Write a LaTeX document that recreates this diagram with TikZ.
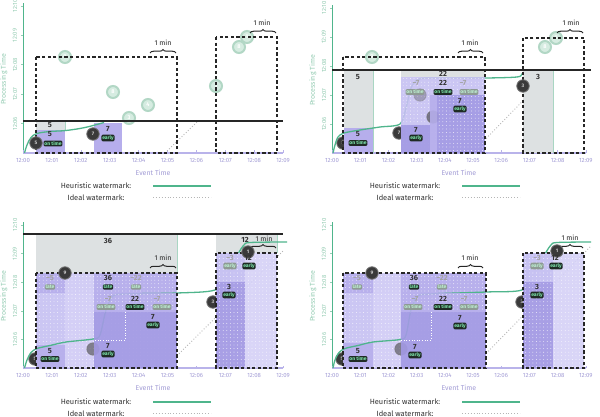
\documentclass[tikz,border=0pt]{standalone}
\usepackage{fontspec}
\setmainfont{Fira Sans}
\usetikzlibrary{decorations.pathreplacing,patterns.meta}
\definecolor{wm}{HTML}{4FB58C}
\definecolor{axg}{HTML}{96CDB4}
\definecolor{axp}{HTML}{B9B3EA}
\definecolor{axpt}{HTML}{A39DD6}
\definecolor{grayr}{HTML}{DDE1E2}
\definecolor{grayb}{HTML}{A9D6C3}
\definecolor{pA}{HTML}{A39AE4}
\definecolor{pB}{HTML}{B6AEEC}
\definecolor{pC}{HTML}{C6C0F2}
\definecolor{pD}{HTML}{D5D1F7}
\definecolor{tagbg}{HTML}{1F2B25}
\definecolor{tagfg}{HTML}{7DE2AA}
\definecolor{ftagbg}{HTML}{8E9A94}
\definecolor{ftagfg}{HTML}{BDEFD2}
\definecolor{gcf}{HTML}{D6ECE1}
\definecolor{gcr}{HTML}{B2D7C5}
\definecolor{dcf}{HTML}{3A3A3A}
\definecolor{txt}{HTML}{333333}
\definecolor{ideal}{HTML}{B5B5B5}
\tikzset{
  xlab/.style={font=\fontsize{6}{6}\selectfont, text=axpt, inner sep=0pt},
  ylab/.style={font=\fontsize{6}{6}\selectfont, text=axg, rotate=90, inner sep=0pt},
  axtitle/.style={font=\fontsize{7}{7}\selectfont, inner sep=0pt},
  legtext/.style={font=\fontsize{7.5}{7.5}\selectfont, text=txt, inner sep=0pt},
  wmline/.style={wm, line width=1.3pt},
  idealline/.style={ideal, line width=0.9pt, dash pattern=on 0.9pt off 2pt},
  nowline/.style={black!85, line width=1.8pt},
  sessbox/.style={draw=black!85, line width=1.6pt, dash pattern=on 3.2pt off 2.4pt},
  minbrace/.style={decorate, decoration={brace, amplitude=3.5pt}, black!85, line width=1pt},
  minlab/.style={font=\fontsize{7}{7}\selectfont, text=black!85, inner sep=0pt},
  num/.style={font=\fontsize{7.5}{7.5}\selectfont\bfseries, text=txt, inner sep=0pt},
  fnum/.style={font=\fontsize{7.5}{7.5}\selectfont\bfseries, text=txt!45, inner sep=0pt},
  tag/.style={fill=tagbg, text=tagfg, font=\fontsize{5}{5}\selectfont\bfseries, rounded corners=1.2pt, inner sep=0.8pt},
  ftag/.style={fill=ftagbg, text=ftagfg, font=\fontsize{5}{5}\selectfont\bfseries, rounded corners=1.2pt, inner sep=0.8pt},
  dcirc/.style={circle, fill=dcf, draw=black!55, line width=0.8pt, minimum size=12.5pt, inner sep=0pt, text=white!80!black, font=\fontsize{5}{5}\selectfont\bfseries},
  gcirc/.style={circle, fill=gcf, draw=gcr, line width=2pt, minimum size=12pt, inner sep=0pt, text=white, font=\fontsize{5.5}{5.5}\selectfont\bfseries},
  reg/.style={fill=#1, fill opacity=0.9},
  dreg/.style={fill=#1, fill opacity=0.9, postaction={pattern={Dots[distance=3.6pt, radius=0.45pt]}, pattern color=white}},
  edge/.style={grayb, line width=0.7pt},
}
\newcommand{\panelaxes}[5]{%
  \coordinate (#1o) at (#2,#3);
  \coordinate (#1xe) at ({#2+9*#4},#3);
  \coordinate (#1ye) at (#2,{#3-5*#5-3});
  \draw[axp, line width=1.3pt] (#1o) -- (#1xe);
  \draw[wm, line width=1pt] (#1o) -- (#1ye);
  \foreach \i in {0,...,9}{%
    \draw[axp, line width=0.6pt] ({#2+\i*#4},#3) -- ++(0,-2.5);
    \node[xlab] (#1xl\i) at ({#2+\i*#4},{#3+7.5}) {12:0\i};
  }%
  \foreach \j/\lab in {1/12:06,2/12:07,3/12:08,4/12:09,5/12:10}{%
    \draw[axg, line width=0.6pt] (#2,{#3-\j*#5}) -- ++(-2.5,0);
    \node[ylab] (#1yl\j) at ({#2-8},{#3-\j*#5}) {\lab};
  }%
  \node[axtitle, text=axg, rotate=90] (#1ptt) at ({#2-19},{#3-2.5*#5}) {Processing Time};
  \node[axtitle, text=axpt] (#1ett) at ({#2+4.5*#4},{#3+20}) {Event Time};
}
\newcommand{\panellegend}[3]{%
  \node[legtext] (#1lh) at (#2,#3) {Heuristic watermark:};
  \coordinate (#1lha) at ({#2+57},#3);
  \coordinate (#1lhb) at ({#2+115},#3);
  \draw[wmline] (#1lha) -- (#1lhb);
  \node[legtext] (#1li) at (#2,{#3+11.5}) {Ideal watermark:};
  \coordinate (#1lia) at ({#2+57},{#3+11.5});
  \coordinate (#1lib) at ({#2+115},{#3+11.5});
  \draw[idealline] (#1lia) -- (#1lib);
}
\begin{document}
\begin{tikzpicture}[x=1pt,y=-1pt]
\useasboundingbox[fill=white] (0,0) rectangle (600,417);
% ================= Panel A =================
\panelaxes{A}{23}{153}{28.9}{29.4}
\panellegend{A}{96}{186}
\coordinate (Ai0) at (165,153); \coordinate (Ai1) at (198,121);
\draw[idealline] (Ai0) -- (Ai1);
\fill[grayr] (36,121) rectangle (65,130);
\fill[pB] (36,130) rectangle (65,153);
\fill[pB] (94,123) rectangle (122,153);
\draw[edge] (65,121) -- (65,130);
\node[gcirc] (Ac3) at (129,118) {3};
\node[gcirc] (Ac4) at (148,105) {4};
\node[gcirc] (Ac8) at (113,92) {8};
\node[gcirc] (Ac3b) at (216,86) {3};
\node[gcirc] (Ac9) at (65,57) {9};
\node[gcirc] (Ac8b) at (239,47) {8};
\node[gcirc] (Ac1) at (247,37) {1};
\draw[sessbox] (36,57) rectangle (177,153);
\draw[sessbox] (216,37) rectangle (277,153);
\draw[wmline] plot[smooth, tension=0.6] coordinates {(24.5,153) (27,145) (31,137.5) (37,133.5) (50,131.5) (66,130.5) (85,127.5) (104,122.5)};
\draw[nowline] (23,121) -- (283,121);
\draw[minbrace] (150,53) -- (176,53);
\node[minlab] (Am1) at (163,43) {1 min};
\draw[minbrace] (250,33) -- (276,33);
\node[minlab] (Am2) at (262,23) {1 min};
\node[dcirc] (Ac5) at (36,143) {5};
\node[dcirc] (Ac7) at (93,134) {7};
\node[num] (An5a) at (50,125.5) {5};
\node[num] (An5b) at (50,134.5) {5};
\node[tag] (At5) at (53,143.5) {on time};
\node[num] (An7) at (108,129) {7};
\node[tag] (At7) at (108,138) {early};
% ================= Panel B =================
\panelaxes{B}{332}{153}{28.2}{29}
\panellegend{B}{405}{186}
\coordinate (Bi0) at (472,153); \coordinate (Bi1) at (553,70);
\draw[idealline] (Bi0) -- (Bi1);
\node[dcirc] (Bc5) at (343,143) {5};
\node[dcirc] (Bc7) at (399,133) {7};
\fill[grayr] (344,70) rectangle (373,128);
\fill[pB] (344,128) rectangle (373,153);
\draw[edge] (373,70) -- (373,153);
\draw[wmline] plot[smooth, tension=0.5] coordinates {(333,153) (335,145) (338,137) (344,133) (360,130) (380,127) (400,124) (406,108) (411,88) (418,79.5) (430,78) (485,78) (517,77) (522,74) (526,70)};
\fill[grayr] (401,70) rectangle (485,77);
\path[dreg=pC] (401,77) rectangle (485,153);
\node[dcirc, opacity=0.3] (Bc8) at (420,95) {};
\node[dcirc, opacity=0.6] (Bc3) at (433,117) {};
\path[reg=pA] (401,125) rectangle (430,153);
\path[reg=pB] (430,95) rectangle (437,153);
\path[dreg=pA] (437,95) rectangle (485,153);
\fill[grayr] (523,70) rectangle (553,153);
\draw[edge] (553,70) -- (553,153);
\node[gcirc] (Bc9) at (372,57) {9};
\node[gcirc] (Bc8b) at (545,47) {8};
\node[gcirc] (Bc1) at (556,38) {1};
\draw[sessbox] (343,57) rectangle (485,153);
\draw[sessbox] (523,38) rectangle (584,153);
\draw[nowline] (332,70) -- (591,70);
\draw[minbrace] (458,53) -- (483,53);
\node[minlab] (Bm1) at (470,43) {1 min};
\draw[minbrace] (557,33) -- (583,33);
\node[minlab] (Bm2) at (571,23) {1 min};
\node[dcirc] (Bc3b) at (523,86) {3};
\node[num] (Bn5a) at (358,77) {5};
\node[num] (Bn5b) at (358,134) {5};
\node[tag] (Bt5) at (358,143) {on time};
\node[num] (Bn22a) at (443,73.5) {22};
\node[fnum] (Bnm7a) at (416,83) {−7};
\node[ftag] (Btm7a) at (415,92) {on time};
\node[num] (Bn22) at (443,83) {22};
\node[tag] (Bt22) at (443,92) {on time};
\node[fnum] (Bnm7b) at (463,83) {−7};
\node[ftag] (Btm7b) at (469,92) {on time};
\node[num] (Bn7a) at (460,101) {7};
\node[tag] (Bt7a) at (460,109) {early};
\node[num] (Bn7b) at (416,130) {7};
\node[tag] (Bt7b) at (416,138) {early};
\node[num] (Bn3) at (538,77) {3};
% ================= Panel C =================
\panelaxes{C}{23}{368}{28.9}{28.6}
\panellegend{C}{96}{402}
\coordinate (Ci0) at (164.6,368); \coordinate (Ci1) at (283,251);
\draw[idealline] (Ci0) -- (Ci1);
\node[dcirc] (Cc5) at (35,359) {5};
\node[dcirc] (Cc3b) at (213,302) {3};
\fill[grayr] (36,234) rectangle (177,273);
\draw[edge] (177,234) -- (177,273);
\fill[grayr] (216,234) rectangle (277,253);
\draw[edge] (277,234) -- (277,253);
\path[dreg=pC] (36,273) rectangle (177,368);
\path[dreg=pB] (36,273) rectangle (177,293);
\path[dreg=pD] (65,273) rectangle (94,368);
\path[reg=pB] (36,345) rectangle (65,368);
\draw[wmline] plot[smooth, tension=0.5] coordinates {(24.5,368) (27,360) (31,352.5) (37,348.5) (50,345.5) (66,342) (93,339) (100,335) (106,310) (113,296) (125,294) (177,293) (215,290) (228,275) (238,254) (244,245) (250,242.5) (287,242)};
\node[dcirc, opacity=0.55] (Cc7) at (93,349) {};
\path[dreg=pB] (94,293) rectangle (177,312);
\path[reg=pA] (94,312) rectangle (177,368);
\draw[white, dotted, line width=0.6pt] (125,312) -- (125,340) -- (94,340);
\path[dreg=pD] (216,253) rectangle (277,368);
\path[dreg=pC] (216,253) rectangle (245,282);
\path[dreg=pA] (216,282) rectangle (245,368);
\draw[sessbox] (36,273) rectangle (177,368);
\draw[sessbox] (216,253) rectangle (277,368);
\draw[nowline] (23,234) -- (283,234);
\draw[minbrace] (150,268) -- (176,268);
\node[minlab] (Cm1) at (163,258) {1 min};
\draw[minbrace] (250,248) -- (276,248);
\node[minlab] (Cm2) at (264,239) {1 min};
\node[dcirc] (Cc9) at (65,273) {9};
\node[dcirc] (Cc1) at (248,252) {1};
\node[num] (Cn36a) at (108,241) {36};
\node[num] (Cn12a) at (245,240) {12};
\node[fnum] (Cnm5) at (50,278) {−5};
\node[ftag] (Ctm5) at (50,287) {late};
\node[num] (Cn36) at (108,278) {36};
\node[tag] (Ct36) at (108,287) {late};
\node[fnum] (Cnm22) at (136,278) {−22};
\node[ftag] (Ctm22) at (136,287) {late};
\node[fnum] (Cnm7a) at (108,299) {−7};
\node[ftag] (Ctm7a) at (106,307) {on time};
\node[num] (Cn22) at (135,299) {22};
\node[tag] (Ct22) at (135,307) {on time};
\node[fnum] (Cnm7b) at (157,299) {−7};
\node[ftag] (Ctm7b) at (162,307) {on time};
\node[num] (Cn7a) at (153,317) {7};
\node[tag] (Ct7a) at (153,325) {early};
\node[num] (Cn7b) at (108,346) {7};
\node[tag] (Ct7b) at (108,354) {early};
\node[num] (Cn5) at (50,351) {5};
\node[tag] (Ct5) at (50,359) {on time};
\node[fnum] (Cnm3) at (230,258) {−3};
\node[ftag] (Ctm3) at (230,266) {early};
\node[num] (Cn12) at (248,258) {12};
\node[tag] (Ct12) at (249,266) {early};
\node[num] (Cn3) at (229,287) {3};
\node[tag] (Ct3) at (229,295) {early};
% ================= Panel D =================
\panelaxes{D}{332}{368}{28.2}{28.6}
\panellegend{D}{405}{402}
\coordinate (Di0) at (472,368); \coordinate (Di1) at (591,246);
\draw[idealline] (Di0) -- (Di1);
\node[dcirc] (Dc5) at (342,359) {5};
\node[dcirc] (Dc3b) at (522,302) {3};
\path[dreg=pC] (343,273) rectangle (486,368);
\path[dreg=pB] (343,273) rectangle (486,293);
\path[dreg=pD] (373,273) rectangle (401,368);
\path[reg=pB] (343,343) rectangle (373,368);
\draw[wmline] plot[smooth, tension=0.5] coordinates {(333,368) (335,360) (339,352.5) (345,348.5) (358,345.5) (373,342) (400,339.5) (406,335) (411,310) (418,296) (430,294) (486,292) (522,290) (533,275) (545,254) (551,245) (557,242.5) (591,242)};
\node[dcirc, opacity=0.55] (Dc7) at (401,349) {};
\path[dreg=pB] (401,293) rectangle (486,312);
\path[reg=pA] (401,312) rectangle (486,368);
\draw[white, dotted, line width=0.6pt] (431,312) -- (431,340) -- (401,340);
\path[dreg=pD] (523,253) rectangle (584,368);
\path[dreg=pC] (523,253) rectangle (553,282);
\path[dreg=pA] (523,282) rectangle (553,368);
\draw[sessbox] (343,273) rectangle (486,368);
\draw[sessbox] (523,253) rectangle (584,368);
\draw[minbrace] (458,268) -- (483,268);
\node[minlab] (Dm1) at (470,258) {1 min};
\draw[minbrace] (557,248) -- (583,248);
\node[minlab] (Dm2) at (570,238) {1 min};
\node[dcirc] (Dc9) at (372,273) {9};
\node[dcirc] (Dc1) at (557,251) {1};
\node[fnum] (Dnm5) at (357,278) {−5};
\node[ftag] (Dtm5) at (357,287) {late};
\node[num] (Dn36) at (414,278) {36};
\node[tag] (Dt36) at (414,287) {late};
\node[fnum] (Dnm22) at (442,278) {−22};
\node[ftag] (Dtm22) at (442,287) {late};
\node[fnum] (Dnm7a) at (415,299) {−7};
\node[ftag] (Dtm7a) at (413,307) {on time};
\node[num] (Dn22) at (443,299) {22};
\node[tag] (Dt22) at (443,307) {on time};
\node[fnum] (Dnm7b) at (464,299) {−7};
\node[ftag] (Dtm7b) at (469,307) {on time};
\node[num] (Dn7a) at (460,318) {7};
\node[tag] (Dt7a) at (460,326) {early};
\node[num] (Dn7b) at (415,347) {7};
\node[tag] (Dt7b) at (415,355) {early};
\node[num] (Dn5) at (358,351) {5};
\node[tag] (Dt5) at (358,359) {on time};
\node[fnum] (Dnm3) at (537,258) {−3};
\node[ftag] (Dtm3) at (537,266) {early};
\node[num] (Dn12) at (555,258) {12};
\node[tag] (Dt12) at (556,266) {early};
\node[num] (Dn3) at (537,287) {3};
\node[tag] (Dt3) at (537,295) {early};
\end{tikzpicture}
\end{document}
